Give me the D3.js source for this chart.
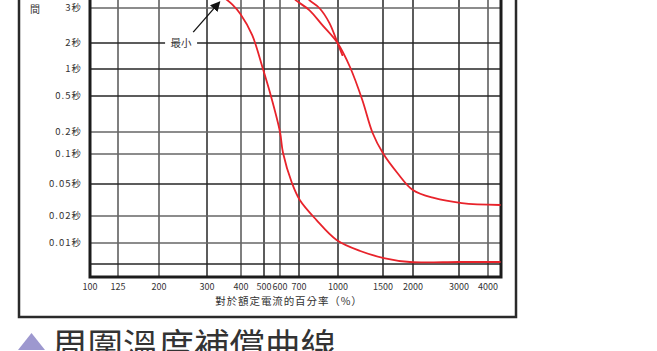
<!DOCTYPE html>
<html>
<head>
<meta charset="utf-8">
<script src="https://cdn.jsdelivr.net/npm/d3@7"></script>
<style>
  html, body { margin: 0; padding: 0; background: #fff; }
  svg { display: block; }
</style>
</head>
<body>
<div id="chart"></div>
<script>
// ticks
const xTicks = [100, 125, 200, 300, 400, 500, 600, 700, 1000, 1500, 2000, 3000, 4000];
const yTicks = [3, 2, 1, 0.5, 0.2, 0.1, 0.05, 0.02, 0.01];
const yTickLabels = ["3秒", "2秒", "1秒", "0.5秒", "0.2秒", "0.1秒", "0.05秒", "0.02秒", "0.01秒"];
const yExtraLines = [0.005];

// curves: [percent of rated current, seconds]
const minCurve = [
    [300, 3.9], [345, 3.4], [372, 3.12], [398, 2.8], [446, 2.19], [495, 1.0], [541, 0.5],
    [600, 0.2], [615, 0.103], [661, 0.0512], [705, 0.0316], [820, 0.0181],
    [987, 0.0108], [1222, 0.00768], [1512, 0.00609], [1942, 0.00534], [3000, 0.00534], [4470, 0.00534]
];
const maxCurve = [
    [639, 3.61], [681, 3.29], [769, 2.93], [867, 2.46], [996, 2.0], [1114, 1.055],
    [1245, 0.452], [1366, 0.194], [1498, 0.103], [1722, 0.0645],
    [1997, 0.0421], [2403, 0.0335], [3087, 0.029], [4470, 0.0274]
];
const maxCurve2 = [
    [727, 3.61], [769, 3.29], [843, 3.0], [925, 2.52], [996, 2.0], [1040, 1.45]
];
const minLabel = { text: "最小", at: [241, 2], from: [267, 2.27], to: [334, 3.22] };

const xTitle = "對於額定電流的百分率（%）";
const yTitle = "間";
const chartTitle = "周圍溫度補償曲線";

const WIDTH = 657;
const HEIGHT = 351;
const PLOT = { left: 90, right: 501, top: -30, bottom: 277 };
// both printed axes are hand spaced, so they are calibrated piece by piece
const X_DOMAIN = [100, 125, 200, 300, 400, 500, 600, 700, 1000, 1500, 2000, 3000, 4000, 4515];
const X_RANGE = [90, 118, 159, 207, 241, 264, 280, 299, 338, 383, 413, 459, 488, 501];
const Y_DOMAIN = [3, 2, 1, 0.5, 0.2, 0.1, 0.05, 0.02, 0.01, 0.005, 0.003];
const Y_RANGE = [8, 43, 69, 96, 132, 154, 184, 216, 243, 264, 277];
const RED = "#e8232b";
const FONT = "'Noto Sans CJK TC', 'Noto Sans', sans-serif";

const x = d3.scaleLog().domain(X_DOMAIN).range(X_RANGE);
const y = d3.scaleLog().domain(Y_DOMAIN).range(Y_RANGE);

const svg = d3.select("#chart")
    .append("svg")
    .attr("width", WIDTH)
    .attr("height", HEIGHT)
    .style("font-family", FONT);

// outer frame
svg.append("rect")
    .attr("x", 19)
    .attr("y", -40)
    .attr("width", 516 - 19)
    .attr("height", 317 + 40)
    .attr("fill", "none")
    .attr("stroke", "#2a2a2a")
    .attr("stroke-width", 2.5);

const darkX = new Set([300, 500, 700, 1000, 1500, 2000, 3000]);
const darkY = new Set([2, 1, 0.5, 0.05, 0.005]);

svg.append("g")
    .selectAll("line")
    .data(xTicks.slice(1))
    .enter()
    .append("line")
    .attr("x1", d => x(d))
    .attr("x2", d => x(d))
    .attr("y1", PLOT.top)
    .attr("y2", PLOT.bottom)
    .attr("stroke", d => darkX.has(d) ? "#262626" : "#555")
    .attr("stroke-width", 1.5);

svg.append("g")
    .selectAll("line")
    .data(yTicks.concat(yExtraLines))
    .enter()
    .append("line")
    .attr("x1", PLOT.left)
    .attr("x2", PLOT.right)
    .attr("y1", d => y(d))
    .attr("y2", d => y(d))
    .attr("stroke", d => darkY.has(d) ? "#262626" : "#666")
    .attr("stroke-width", 1.5);

// plot border
svg.append("rect")
    .attr("x", PLOT.left)
    .attr("y", PLOT.top)
    .attr("width", PLOT.right - PLOT.left)
    .attr("height", PLOT.bottom - PLOT.top)
    .attr("fill", "none")
    .attr("stroke", "#1c1c1c")
    .attr("stroke-width", 3);

// tick labels
svg.append("g")
    .selectAll("text")
    .data(yTicks)
    .enter()
    .append("text")
    .attr("x", 82)
    .attr("y", d => y(d))
    .attr("dy", "0.36em")
    .attr("text-anchor", "end")
    .attr("fill", "#333")
    .style("font-size", "9.5px")
    .style("letter-spacing", "1px")
    .text((d, i) => yTickLabels[i]);

svg.append("g")
    .selectAll("text")
    .data(xTicks)
    .enter()
    .append("text")
    .attr("x", d => x(d))
    .attr("y", 290)
    .attr("text-anchor", "middle")
    .attr("fill", "#333")
    .style("font-size", "9px")
    .text(d => d);

svg.append("text")
    .attr("x", 289)
    .attr("y", 305)
    .attr("text-anchor", "middle")
    .attr("fill", "#333")
    .style("font-size", "10.5px")
    .style("letter-spacing", "0.9px")
    .text(xTitle);

svg.append("text")
    .attr("x", 35)
    .attr("y", 13)
    .attr("text-anchor", "middle")
    .attr("fill", "#333")
    .style("font-size", "10px")
    .text(yTitle);

// curves
svg.append("clipPath")
    .attr("id", "plot-clip")
    .append("rect")
    .attr("x", PLOT.left)
    .attr("y", PLOT.top)
    .attr("width", PLOT.right - PLOT.left)
    .attr("height", PLOT.bottom - PLOT.top);

const line = d3.line()
    .x(d => x(d[0]))
    .y(d => y(d[1]))
    .curve(d3.curveCatmullRom.alpha(0.5));

svg.append("g")
    .attr("clip-path", "url(#plot-clip)")
    .selectAll("path")
    .data([minCurve, maxCurve, maxCurve2])
    .enter()
    .append("path")
    .attr("d", line)
    .attr("fill", "none")
    .attr("stroke", RED)
    .attr("stroke-width", 1.8)
    .attr("stroke-linecap", "round");

// "最小" annotation
const lx = x(minLabel.at[0]);
const ly = y(minLabel.at[1]);
svg.append("rect")
    .attr("x", lx - 16)
    .attr("y", ly - 6)
    .attr("width", 32)
    .attr("height", 12)
    .attr("fill", "#fff");

svg.append("text")
    .attr("x", lx)
    .attr("y", ly)
    .attr("dy", "0.36em")
    .attr("text-anchor", "middle")
    .attr("fill", "#333")
    .style("font-size", "10.5px")
    .text(minLabel.text);

svg.append("defs")
    .append("marker")
    .attr("id", "arrow")
    .attr("viewBox", "0 0 10 10")
    .attr("refX", 9)
    .attr("refY", 5)
    .attr("markerWidth", 10)
    .attr("markerHeight", 10)
    .attr("markerUnits", "userSpaceOnUse")
    .attr("orient", "auto")
    .append("path")
    .attr("d", "M0,0L10,5L0,10Z")
    .attr("fill", "#111");

svg.append("line")
    .attr("x1", x(minLabel.from[0]))
    .attr("y1", y(minLabel.from[1]))
    .attr("x2", x(minLabel.to[0]))
    .attr("y2", y(minLabel.to[1]))
    .attr("stroke", "#111")
    .attr("stroke-width", 1.3)
    .attr("marker-end", "url(#arrow)");

// title
svg.append("path")
    .attr("d", "M18,350L31.5,333L45,350Z")
    .attr("fill", "#9d98cf");

svg.append("text")
    .attr("x", 52)
    .attr("y", 359)
    .attr("fill", "#333")
    .style("font-size", "35.5px")
    .text(chartTitle);
</script>
</body>
</html>
